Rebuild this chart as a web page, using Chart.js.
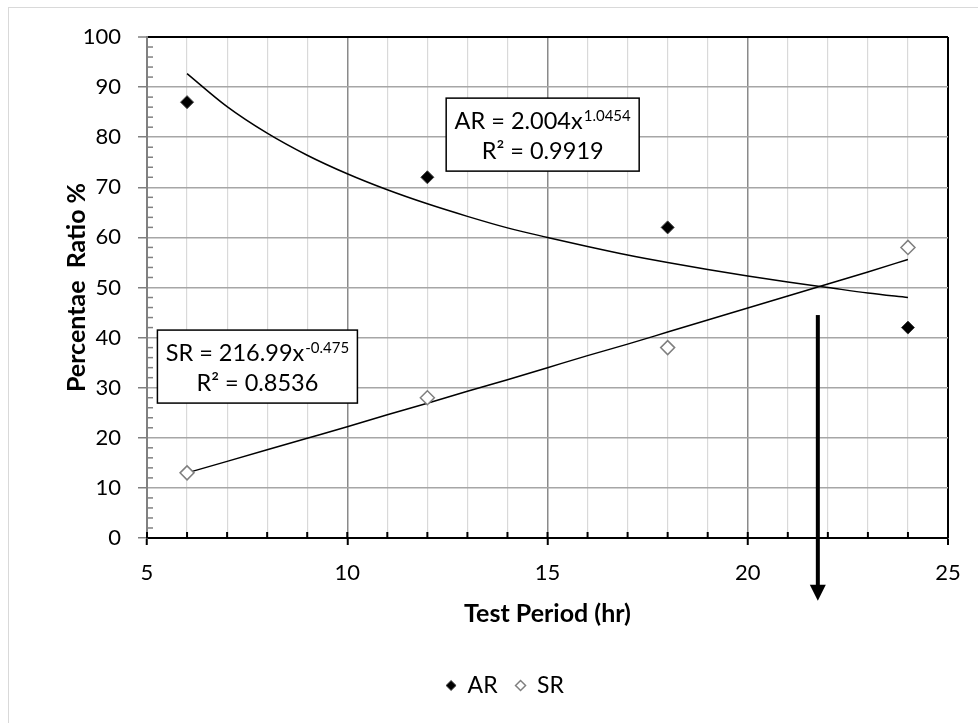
<!DOCTYPE html>
<html><head><meta charset="utf-8">
<script src="https://cdn.jsdelivr.net/npm/chart.js@4.4.1/dist/chart.umd.min.js"></script>
<style>html,body{margin:0;padding:0;background:#fff;}</style>
</head><body>
<canvas id="c" width="978" height="723"></canvas>
<script>
// ---- data ----
const periods = [6, 12, 18, 24];
const arRatio = [87, 72, 62, 42];
const srRatio = [13, 28, 38, 58];
// trendline curves
const trendPeriods = [6, 7, 8, 9, 10, 11, 12, 13, 14, 15, 16, 17, 18, 19, 20, 21, 22, 23, 24];
const arTrend = [92.7, 86.1, 80.8, 76.4, 72.7, 69.5, 66.7, 64.2, 61.9, 60.0, 58.2, 56.5, 55.0, 53.6, 52.3, 51.1, 50.0, 48.9, 48.0];
const srTrend = [13.0, 15.3, 17.6, 19.9, 22.2, 24.6, 26.9, 29.3, 31.6, 34.0, 36.4, 38.7, 41.1, 43.5, 45.9, 48.3, 50.7, 53.1, 55.6];
const xMajorTicks = [5, 10, 15, 20, 25];
const yTicks = [0, 10, 20, 30, 40, 50, 60, 70, 80, 90, 100];
const arEquation = ['AR = 2.004x', '1.0454', 'R² = 0.9919'];
const srEquation = ['SR = 216.99x', '-0.475', 'R² = 0.8536'];
const arrowPoint = { x: 21.75, yTop: 44.5, yTip: -12.5 };

const FONT = 'Lato';

function drawEqBox(ctx, left, top, w, h, eq) {
  ctx.fillStyle = '#fff';
  ctx.fillRect(left, top, w, h);
  ctx.strokeStyle = '#000';
  ctx.lineWidth = 1.5;
  ctx.strokeRect(left, top, w, h);
  ctx.fillStyle = '#000';
  ctx.textBaseline = 'alphabetic';
  ctx.font = `23.5px ${FONT}`;
  const mw = ctx.measureText(eq[0]).width;
  ctx.font = `15px ${FONT}`;
  const ew = ctx.measureText(eq[1]).width;
  const cx = left + w / 2;
  const x0 = cx - (mw + ew + 1) / 2;
  const base1 = top + 31;
  ctx.textAlign = 'left';
  ctx.font = `23.5px ${FONT}`;
  ctx.fillText(eq[0], x0, base1);
  ctx.font = `15px ${FONT}`;
  ctx.fillText(eq[1], x0 + mw + 1, base1 - 8);
  ctx.font = `23.5px ${FONT}`;
  ctx.textAlign = 'center';
  ctx.fillText(eq[2], cx, base1 + 30);
}

const decor = {
  id: 'decor',
  beforeDraw(chart) {
    const ctx = chart.ctx;
    ctx.save();
    ctx.fillStyle = '#fff';
    ctx.fillRect(0, 0, chart.width, chart.height);
    ctx.strokeStyle = '#d9d9d9';
    ctx.lineWidth = 1;
    ctx.strokeRect(8.5, 7.5, chart.width + 20, chart.height + 20);
    ctx.restore();
  },
  afterDraw(chart) {
    const { ctx, chartArea: ca, scales: { x, y } } = chart;
    ctx.save();
    // inner minor ticks on the x axis
    ctx.strokeStyle = '#000';
    ctx.lineWidth = 2;
    for (let v = x.min; v <= x.max; v += 1) {
      const px = x.getPixelForValue(v);
      ctx.beginPath();
      ctx.moveTo(px, ca.bottom);
      ctx.lineTo(px, ca.bottom - 6);
      ctx.stroke();
    }
    // inner minor ticks on the y axis
    ctx.strokeStyle = '#808080';
    ctx.lineWidth = 1.5;
    for (let v = y.min + 2; v < y.max; v += 2) {
      if (v % 10 === 0) continue;
      const py = y.getPixelForValue(v);
      ctx.beginPath();
      ctx.moveTo(ca.left, py);
      ctx.lineTo(ca.left + 6, py);
      ctx.stroke();
    }
    // equation boxes
    drawEqBox(ctx, x.getPixelForValue(12.47), y.getPixelForValue(87.8), 193, 73, arEquation);
    drawEqBox(ctx, x.getPixelForValue(5.26), y.getPixelForValue(41.5), 200, 73, srEquation);
    // arrow
    const ax = x.getPixelForValue(arrowPoint.x);
    const yTop = y.getPixelForValue(arrowPoint.yTop);
    const yTip = y.getPixelForValue(arrowPoint.yTip);
    ctx.fillStyle = '#000';
    ctx.fillRect(ax - 2, yTop, 4, yTip - 15 - yTop);
    ctx.beginPath();
    ctx.moveTo(ax - 8, yTip - 16);
    ctx.lineTo(ax + 8, yTip - 16);
    ctx.lineTo(ax, yTip);
    ctx.closePath();
    ctx.fill();
    ctx.restore();
  }
};

const toPts = (xs, ys) => xs.map((v, i) => ({ x: v, y: ys[i] }));

new Chart(document.getElementById('c'), {
  type: 'scatter',
  data: {
    datasets: [
      { label: 'AR', data: toPts(periods, arRatio), pointStyle: 'rectRot', pointRadius: 6.5,
        backgroundColor: '#000', borderColor: '#404040', borderWidth: 1 },
      { label: 'SR', data: toPts(periods, srRatio), pointStyle: 'rectRot', pointRadius: 7,
        backgroundColor: '#fff', borderColor: '#7f7f7f', borderWidth: 1.5 },
      { label: 'AR trend', type: 'line', data: toPts(trendPeriods, arTrend), showLine: true,
        borderColor: '#000', borderWidth: 1.5, pointRadius: 0, cubicInterpolationMode: 'monotone', fill: false },
      { label: 'SR trend', type: 'line', data: toPts(trendPeriods, srTrend), showLine: true,
        borderColor: '#000', borderWidth: 1.5, pointRadius: 0, cubicInterpolationMode: 'monotone', fill: false }
    ]
  },
  options: {
    responsive: false,
    animation: false,
    devicePixelRatio: 1,
    layout: { padding: { left: 62, right: 30, top: 37, bottom: 16 } },
    plugins: {
      legend: {
        position: 'bottom',
        labels: {
          filter: item => item.text === 'AR' || item.text === 'SR',
          usePointStyle: true, pointStyleWidth: 10, boxHeight: 7, padding: 18,
          color: '#000', font: { family: FONT, size: 23 }
        }
      },
      tooltip: { enabled: false }
    },
    scales: {
      x: {
        type: 'linear', min: 5, max: 25,
        afterFit(s) { s.height = 118; },
        ticks: {
          stepSize: 1, autoSkip: false, maxRotation: 0, padding: 15, color: '#000',
          font: { family: FONT, size: 22 },
          callback: v => xMajorTicks.includes(v) ? String(v) : ''
        },
        grid: {
          color: c => c.tick.value === 25 ? '#000' : (c.tick.value % 5 === 0 ? '#8a8a8a' : '#d9d9d9'),
          lineWidth: c => c.tick.value === 25 ? 2 : (c.tick.value % 5 === 0 ? 1.5 : 1.2),
          tickLength: 7,
          tickColor: c => c.tick.value % 5 === 0 ? '#000' : 'rgba(0,0,0,0)',
          tickWidth: 2
        },
        border: { color: '#000', width: 2 },
        title: { display: true, text: 'Test Period (hr)', color: '#000',
          font: { family: FONT, size: 25, weight: 'bold' }, padding: { top: 0, bottom: 27 } }
      },
      y: {
        min: 0, max: 100,
        afterFit(s) { s.width = 85; },
        afterBuildTicks(s) { s.ticks = yTicks.map(v => ({ value: v })); },
        ticks: { padding: 17, color: '#000', font: { family: FONT, size: 22 } },
        grid: {
          color: c => c.tick.value === 100 ? '#000' : (c.tick.value === 0 ? 'rgba(0,0,0,0)' : '#a6a6a6'),
          lineWidth: c => c.tick.value === 100 ? 2 : 1.5,
          tickLength: 9, tickColor: '#808080', tickWidth: 1.5
        },
        border: { color: '#808080', width: 2 },
        title: { display: true, text: 'Percentae  Ratio %', color: '#000',
          font: { family: FONT, size: 25, weight: 'bold' }, padding: { top: 0, bottom: 0 } }
      }
    }
  },
  plugins: [decor]
});
</script>
</body></html>
